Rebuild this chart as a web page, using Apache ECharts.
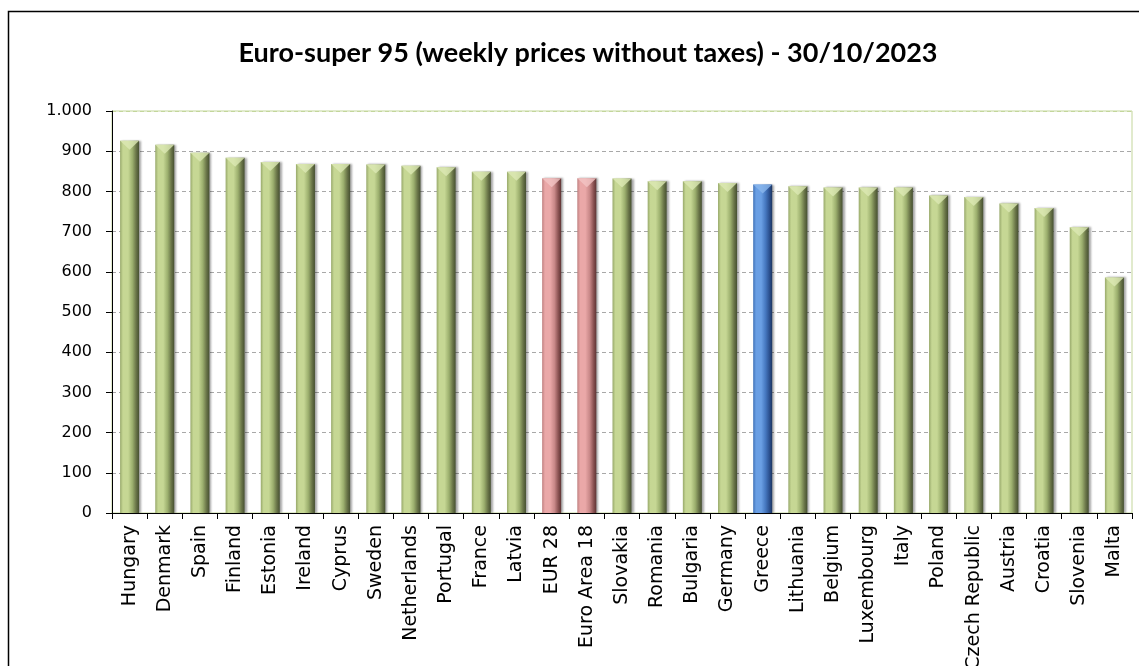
<!DOCTYPE html>
<html>
<head>
<meta charset="utf-8">
<script src="https://cdn.jsdelivr.net/npm/echarts@6/dist/echarts.min.js"></script>
<style>html,body{margin:0;padding:0;background:#fff;}#chart{width:1139px;height:666px;}</style>
</head>
<body>
<div id="chart"></div>
<script>
const titleText = 'Euro-super 95 (weekly prices without taxes) - 30/10/2023';
const categories = ['Hungary','Denmark','Spain','Finland','Estonia','Ireland','Cyprus','Sweden','Netherlands','Portugal','France','Latvia','EUR 28','Euro Area 18','Slovakia','Romania','Bulgaria','Germany','Greece','Lithuania','Belgium','Luxembourg','Italy','Poland','Czech Republic','Austria','Croatia','Slovenia','Malta'];
const values = [926,916,896,884,873,868,868,867,864,860,849,849,833,833,832,825,825,821,817,813,810,810,810,790,786,770,759,711,586];
const averages = ['EUR 28','Euro Area 18'];
const highlight = ['Greece'];
const yTicks = [0,100,200,300,400,500,600,700,800,900,1000];

function grad(c){
  return new echarts.graphic.LinearGradient(0,0,1,0,[
    {offset:0,color:c[0]},{offset:0.15,color:c[1]},{offset:0.42,color:c[1]},{offset:0.65,color:c[2]},{offset:0.85,color:c[3]},{offset:1,color:c[4]}]);
}
const green = grad(['#98a96b','#c6d794','#9caf6e','#687347','#465031']);
const red = grad(['#c08080','#eaa8a8','#c88888','#8a5252','#5e3434']);
const blue = grad(['#3f72b8','#6a9fe4','#4678c0','#2c5190','#1c3560']);
const capGreen = '#dcE9b4', capRed = '#f3c4c4', capBlue = '#8ab6ec';

function kind(c){ return averages.includes(c) ? 'r' : (highlight.includes(c) ? 'b' : 'g'); }

const barData = categories.map((c,i)=>({value: values[i], itemStyle:{color: kind(c)==='r'?red:kind(c)==='b'?blue:green}}));
const capData = categories.map((c,i)=>({value: values[i], itemStyle:{color: kind(c)==='r'?capRed:kind(c)==='b'?capBlue:capGreen}}));

const gridColors = yTicks.map((v,i)=> i===yTicks.length-1 ? '#c3d69b' : '#a8a8a8');

const chart = echarts.init(document.getElementById('chart'));
chart.setOption({
  animation:false,
  backgroundColor:'#fff',
  title:{text:titleText,left:583,top:35,textAlign:'center',textStyle:{fontFamily:'Lato',fontWeight:'bold',fontSize:27,color:'#000'}},
  graphic:[{type:'rect',shape:{x:8.5,y:11.5,width:1150,height:700},style:{fill:'none',stroke:'#000',lineWidth:1.5},silent:true,z:-1}],
  grid:{left:112,right:7,top:111,bottom:153,show:true,borderColor:'#c3d69b',borderWidth:1,backgroundColor:'transparent',containLabel:false,outerBoundsMode:'none'},
  xAxis:{type:'category',data:categories,
    axisLine:{lineStyle:{color:'#000',width:1}},
    axisTick:{show:true,length:6,lineStyle:{color:'#000'},alignWithLabel:false},
    axisLabel:{rotate:90,interval:0,margin:12,color:'#000',fontFamily:'DejaVu Sans',fontSize:19}},
  yAxis:{type:'value',min:0,max:1000,interval:100,
    axisLine:{show:true,lineStyle:{color:'#000',width:1}},
    axisTick:{show:true,length:6,lineStyle:{color:'#000'}},
    axisLabel:{margin:20,color:'#000',fontFamily:'DejaVu Sans',fontSize:16,
      formatter:v=> v>=1000 ? (Math.floor(v/1000)+'.'+String(v%1000).padStart(3,'0')) : String(v)},
    splitLine:{show:true,lineStyle:{color:gridColors,type:[4,3],width:1}}},
  series:[
    {type:'bar',data:barData,barWidth:19,
      itemStyle:{shadowColor:'rgba(0,0,0,0.35)',shadowBlur:2,shadowOffsetX:2,shadowOffsetY:0}},
    {type:'scatter',data:capData,symbol:'triangle',symbolRotate:180,symbolSize:[19,9],symbolOffset:[0,4.5],silent:true,z:3}
  ]
});
</script>
</body>
</html>
